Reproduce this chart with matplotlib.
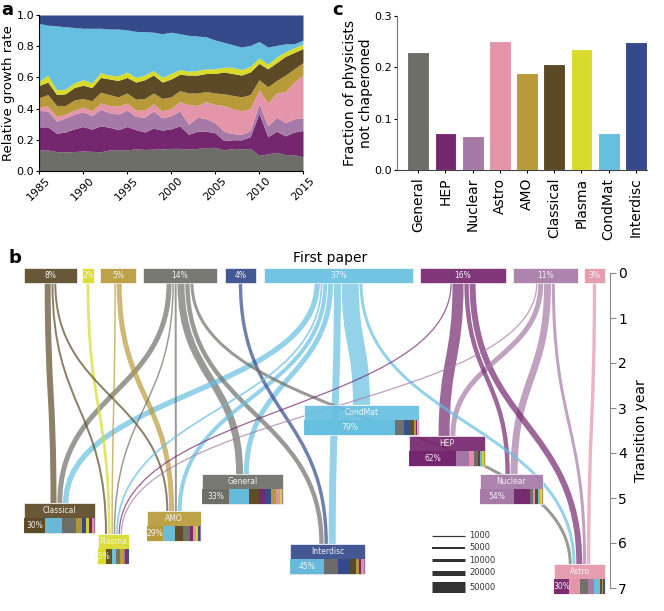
import numpy as np
import matplotlib.pyplot as plt
from matplotlib.path import Path
from matplotlib.patches import PathPatch, Rectangle

plt.rcParams["font.family"] = "DejaVu Sans"

fields = ["General", "HEP", "Nuclear", "Astro", "AMO", "Classical",
          "Plasma", "CondMat", "Interdisc"]
field_colors = ["#6e6e68", "#74266e", "#a67aa6", "#e595aa", "#b89a3a",
                "#5c4a27", "#d8db2b", "#67bfe0", "#344a8b"]
color_of = dict(zip(fields, field_colors))

# ---- panel a: upper edge of each stacked band, 1985..2015
years = np.arange(1985, 2016)
top_general = [0.135, 0.135, 0.124, 0.122, 0.125, 0.128, 0.126, 0.123, 0.135, 0.135, 0.135,
               0.142, 0.138, 0.14, 0.142, 0.145, 0.145, 0.14, 0.145, 0.15, 0.152, 0.135,
               0.145, 0.142, 0.145, 0.10, 0.11, 0.12, 0.105, 0.105, 0.09]
top_hep = [0.283, 0.283, 0.242, 0.25, 0.27, 0.285, 0.268, 0.29, 0.28, 0.265, 0.285,
           0.265, 0.25, 0.275, 0.262, 0.27, 0.29, 0.235, 0.255, 0.255, 0.245, 0.195,
           0.2, 0.2, 0.22, 0.37, 0.22, 0.255, 0.225, 0.25, 0.26]
top_nuclear = [0.388, 0.385, 0.32, 0.34, 0.365, 0.38, 0.355, 0.395, 0.375, 0.365, 0.39,
               0.35, 0.345, 0.385, 0.34, 0.355, 0.385, 0.3, 0.345, 0.335, 0.31, 0.255,
               0.24, 0.235, 0.26, 0.43, 0.29, 0.345, 0.31, 0.335, 0.34]
top_astro = [0.413, 0.415, 0.35, 0.365, 0.39, 0.41, 0.385, 0.435, 0.42, 0.415, 0.435,
             0.39, 0.39, 0.43, 0.385, 0.4, 0.445, 0.425, 0.42, 0.445, 0.425, 0.42,
             0.4, 0.385, 0.4, 0.52, 0.435, 0.5, 0.51, 0.57, 0.615]
top_amo = [0.47, 0.49, 0.42, 0.42, 0.455, 0.465, 0.45, 0.505, 0.49, 0.475, 0.5,
           0.46, 0.465, 0.5, 0.465, 0.475, 0.515, 0.5, 0.5, 0.51, 0.5, 0.495,
           0.485, 0.475, 0.49, 0.585, 0.54, 0.58, 0.615, 0.655, 0.695]
top_classical = [0.548, 0.57, 0.49, 0.495, 0.535, 0.55, 0.535, 0.6, 0.59, 0.58, 0.6,
                 0.57, 0.585, 0.615, 0.57, 0.59, 0.62, 0.615, 0.615, 0.625, 0.625, 0.635,
                 0.625, 0.615, 0.635, 0.69, 0.655, 0.695, 0.735, 0.76, 0.785]
top_plasma = [0.575, 0.615, 0.52, 0.525, 0.565, 0.585, 0.565, 0.63, 0.615, 0.61, 0.635,
              0.6, 0.615, 0.645, 0.6, 0.625, 0.65, 0.64, 0.645, 0.655, 0.655, 0.665,
              0.665, 0.65, 0.67, 0.725, 0.685, 0.73, 0.765, 0.79, 0.815]
top_condmat = [0.945, 0.935, 0.93, 0.925, 0.92, 0.915, 0.915, 0.915, 0.91, 0.91, 0.905,
               0.895, 0.893, 0.89, 0.88, 0.89, 0.88, 0.87, 0.865, 0.86, 0.84, 0.825,
               0.81, 0.795, 0.805, 0.83, 0.795, 0.805, 0.815, 0.815, 0.84]
top_interdisc = [1.0] * len(years)

# ---- panel c
not_chaperoned = [0.229, 0.072, 0.066, 0.252, 0.188, 0.206, 0.236, 0.073, 0.250]

# ---- panel b
first_paper_pct = [14, 16, 11, 3, 5, 8, 2, 37, 4]
mean_year = [4.97, 4.12, 4.97, 6.97, 5.79, 5.61, 6.30, 3.43, 6.52]
# composition of each destination field by first-paper field (columns = fields)
composition = {
    "General":   [0.33, 0.075, 0.015, 0.05, 0.06, 0.12, 0.025, 0.25, 0.075],
    "HEP":       [0.05, 0.62, 0.17, 0.065, 0.015, 0.03, 0.02, 0.03, 0.0],
    "Nuclear":   [0.05, 0.25, 0.54, 0.04, 0.02, 0.04, 0.025, 0.035, 0.0],
    "Astro":     [0.16, 0.30, 0.12, 0.20, 0.03, 0.04, 0.0, 0.12, 0.03],
    "AMO":       [0.14, 0.05, 0.02, 0.05, 0.29, 0.15, 0.05, 0.22, 0.03],
    "Classical": [0.20, 0.04, 0.01, 0.03, 0.08, 0.30, 0.05, 0.23, 0.06],
    "Plasma":    [0.12, 0.07, 0.08, 0.0, 0.10, 0.20, 0.25, 0.13, 0.05],
    "CondMat":   [0.08, 0.01, 0.005, 0.005, 0.015, 0.035, 0.01, 0.79, 0.05],
    "Interdisc": [0.19, 0.03, 0.02, 0.03, 0.04, 0.08, 0.0, 0.45, 0.16],
}
flows = [
    ("Classical", "Classical", 25000), ("General", "Classical", 20000),
    ("CondMat", "Classical", 22000), ("Classical", "Plasma", 5000),
    ("Plasma", "Plasma", 9000), ("AMO", "Plasma", 2500),
    ("General", "Plasma", 2500), ("CondMat", "Plasma", 4000),
    ("HEP", "Plasma", 1500), ("Nuclear", "Plasma", 1500),
    ("Classical", "AMO", 5000), ("AMO", "AMO", 20000),
    ("General", "AMO", 5000), ("CondMat", "AMO", 15000),
    ("General", "General", 30000), ("CondMat", "General", 20000),
    ("General", "Interdisc", 17000), ("Interdisc", "Interdisc", 12000),
    ("CondMat", "Interdisc", 30000), ("CondMat", "CondMat", 80000),
    ("General", "Astro", 10000), ("HEP", "HEP", 50000),
    ("Nuclear", "HEP", 20000), ("HEP", "Nuclear", 17000),
    ("Nuclear", "Nuclear", 30000), ("HEP", "Astro", 25000),
    ("Nuclear", "Astro", 10000), ("Astro", "Astro", 12000),
    ("CondMat", "Astro", 10000),
]
legend_sizes = [1000, 5000, 10000, 20000, 50000]

# layout of panel b (horizontal extent of boxes, in pixels)
top_x = {"Classical": (24, 77), "Plasma": (82, 94), "AMO": (100, 136),
         "General": (143, 217), "Interdisc": (225, 256), "CondMat": (264, 413),
         "HEP": (420, 506), "Nuclear": (513, 578), "Astro": (584, 605)}
dest_x = {"Classical": (24, 95), "Plasma": (98, 129), "AMO": (147, 201),
          "General": (202, 283), "Interdisc": (290, 365), "CondMat": (304, 419),
          "HEP": (409, 485), "Nuclear": (480, 543), "Astro": (554, 605)}

W, H = 664, 611
fig = plt.figure(figsize=(W / 100, H / 100), dpi=100)


def fax(left, top, right, bottom):
    return fig.add_axes([left / W, 1 - bottom / H, (right - left) / W, (bottom - top) / H])


# ================= panel a
ax_a = fax(39, 15, 303, 171)
edges = [top_general, top_hep, top_nuclear, top_astro, top_amo, top_classical,
         top_plasma, top_condmat, top_interdisc]
lower = np.zeros(len(years))
for f, e in zip(fields, edges):
    e = np.array(e)
    ax_a.fill_between(years, lower, e, color=color_of[f], linewidth=0)
    lower = e
ax_a.set_xlim(1985, 2015)
ax_a.set_ylim(0, 1)
ax_a.set_xticks(range(1985, 2016, 5))
ax_a.set_yticks(np.arange(0, 1.01, 0.2))
ax_a.tick_params(labelsize=8, length=2, pad=1.5)
for lab in ax_a.get_xticklabels():
    lab.set_rotation(45)
ax_a.set_ylabel("Relative growth rate", fontsize=9.5, labelpad=1)
ax_a.spines["top"].set_visible(False)
ax_a.spines["right"].set_visible(False)

# ================= panel c
ax_c = fax(397, 16, 647, 170)
ax_c.bar(range(len(fields)), not_chaperoned, width=0.8,
         color=field_colors, edgecolor="white", linewidth=0.8)
ax_c.set_xlim(-0.78, 8.41)
ax_c.set_ylim(0, 0.3)
ax_c.set_yticks([0.0, 0.1, 0.2, 0.3])
ax_c.set_xticks(range(len(fields)))
ax_c.set_xticklabels(fields, rotation=90, fontsize=10)
ax_c.tick_params(axis="y", labelsize=8, length=2, pad=1.5)
ax_c.tick_params(axis="x", length=2)
ax_c.set_ylabel("Fraction of physicists\nnot chaperoned", fontsize=10, labelpad=1)
for s in ["top", "right"]:
    ax_c.spines[s].set_visible(False)
ax_c.spines["left"].set_color("#777777")
ax_c.spines["bottom"].set_color("#444444")

# ================= panel b
ax_b = fax(0, 262, 610, 600)
ax_b.set_xlim(0, 610)
ax_b.set_ylim((600 - 273) / 45, (262 - 273) / 45)
for s in ["top", "left", "bottom"]:
    ax_b.spines[s].set_visible(False)
ax_b.spines["right"].set_bounds(0, 7)
ax_b.spines["right"].set_color("#888888")
ax_b.set_xticks([])
ax_b.yaxis.tick_right()
ax_b.set_yticks(range(8))
ax_b.tick_params(axis="y", labelsize=10, length=4, color="#888888", pad=2)
ax_b.yaxis.set_label_position("right")
ax_b.set_ylabel("Transition year", fontsize=10, labelpad=5)

year_of = dict(zip(fields, mean_year))
pct_of = dict(zip(fields, first_paper_pct))
row = 0.33
top_y0, top_y1 = -0.11, 0.22


def center(r):
    return 0.5 * (r[0] + r[1])


def flow_px(n):
    return 1.0 + n / 5000.0


gap = 0.8
src_pos, dst_pos = {}, {}
for f in fields:
    out = sorted([fl for fl in flows if fl[0] == f], key=lambda fl: center(dest_x[fl[1]]))
    ws = [flow_px(fl[2]) for fl in out]
    x = center(top_x[f]) - (sum(ws) + gap * (len(out) - 1)) / 2
    for fl, w in zip(out, ws):
        src_pos[fl[:2]] = x + w / 2
        x += w + gap
    inc = sorted([fl for fl in flows if fl[1] == f], key=lambda fl: center(top_x[fl[0]]))
    ws = [flow_px(fl[2]) for fl in inc]
    x = center(dest_x[f]) - (sum(ws) + gap * (len(inc) - 1)) / 2
    for fl, w in zip(inc, ws):
        dst_pos[fl[:2]] = x + w / 2
        x += w + gap

for src, dst, n in sorted(flows, key=lambda fl: -fl[2]):
    xs, xd = src_pos[(src, dst)], dst_pos[(src, dst)]
    y0, y1 = top_y1, year_of[dst] - 0.5
    ym = 0.5 * (y0 + y1)
    p = Path([(xs, y0), (xs, ym), (xd, ym), (xd, y1)],
             [Path.MOVETO, Path.CURVE4, Path.CURVE4, Path.CURVE4])
    ax_b.add_patch(PathPatch(p, fill=False, lw=flow_px(n) * 0.72,
                             edgecolor=color_of[src], alpha=0.7, capstyle="butt", zorder=1))

txt_col = "#f2f2f2"
for f in fields:
    x0, x1 = top_x[f]
    ax_b.add_patch(Rectangle((x0, top_y0), x1 - x0, top_y1 - top_y0, facecolor=color_of[f],
                             edgecolor="white", lw=0.5, alpha=0.92, zorder=3))
    ax_b.text(center(top_x[f]), 0.5 * (top_y0 + top_y1), f"{pct_of[f]}%", color=txt_col,
              fontsize=5.5, ha="center", va="center", zorder=4)

for f in fields:
    x0, x1 = dest_x[f]
    w = x1 - x0
    yt = year_of[f] - 0.5
    ax_b.add_patch(Rectangle((x0, yt), w, 2 * row, facecolor=color_of[f],
                             edgecolor="white", lw=0.5, alpha=0.92, zorder=3))
    ax_b.text(x0 + w / 2, yt + row / 2, f, color=txt_col, fontsize=5.5,
              ha="center", va="center", zorder=5)
    comp = sorted(zip(fields, composition[f]), key=lambda c: -c[1])
    x = x0
    for k, (g, frac) in enumerate(comp):
        if frac <= 0:
            continue
        ax_b.add_patch(Rectangle((x, yt + row), frac * w, row, facecolor=color_of[g],
                                 edgecolor="none", alpha=0.95, zorder=4))
        if k == 0:
            ax_b.text(x + frac * w / 2, yt + 1.5 * row, f"{round(frac * 100)}%",
                      color=txt_col, fontsize=5.5, ha="center", va="center", zorder=5)
        x += frac * w

leg_y = [5.84, 6.11, 6.38, 6.66, 6.98]
for n, y in zip(legend_sizes, leg_y):
    ax_b.plot([432, 465], [y, y], color="#333333", lw=flow_px(n) * 0.72,
              solid_capstyle="butt", zorder=2)
    ax_b.text(469, y, str(n), fontsize=6, va="center", color="#333333")

fig.text(330 / W, 1 - 258 / H, "First paper", fontsize=10, ha="center", va="center")
fig.text(1 / W, 1 - 1 / H, "a", fontsize=13, fontweight="bold", va="top")
fig.text(332 / W, 1 - 1 / H, "c", fontsize=13, fontweight="bold", va="top")
fig.text(8 / W, 1 - 258 / H, "b", fontsize=13, fontweight="bold", va="center")

fig.savefig("out.png", dpi=100)
